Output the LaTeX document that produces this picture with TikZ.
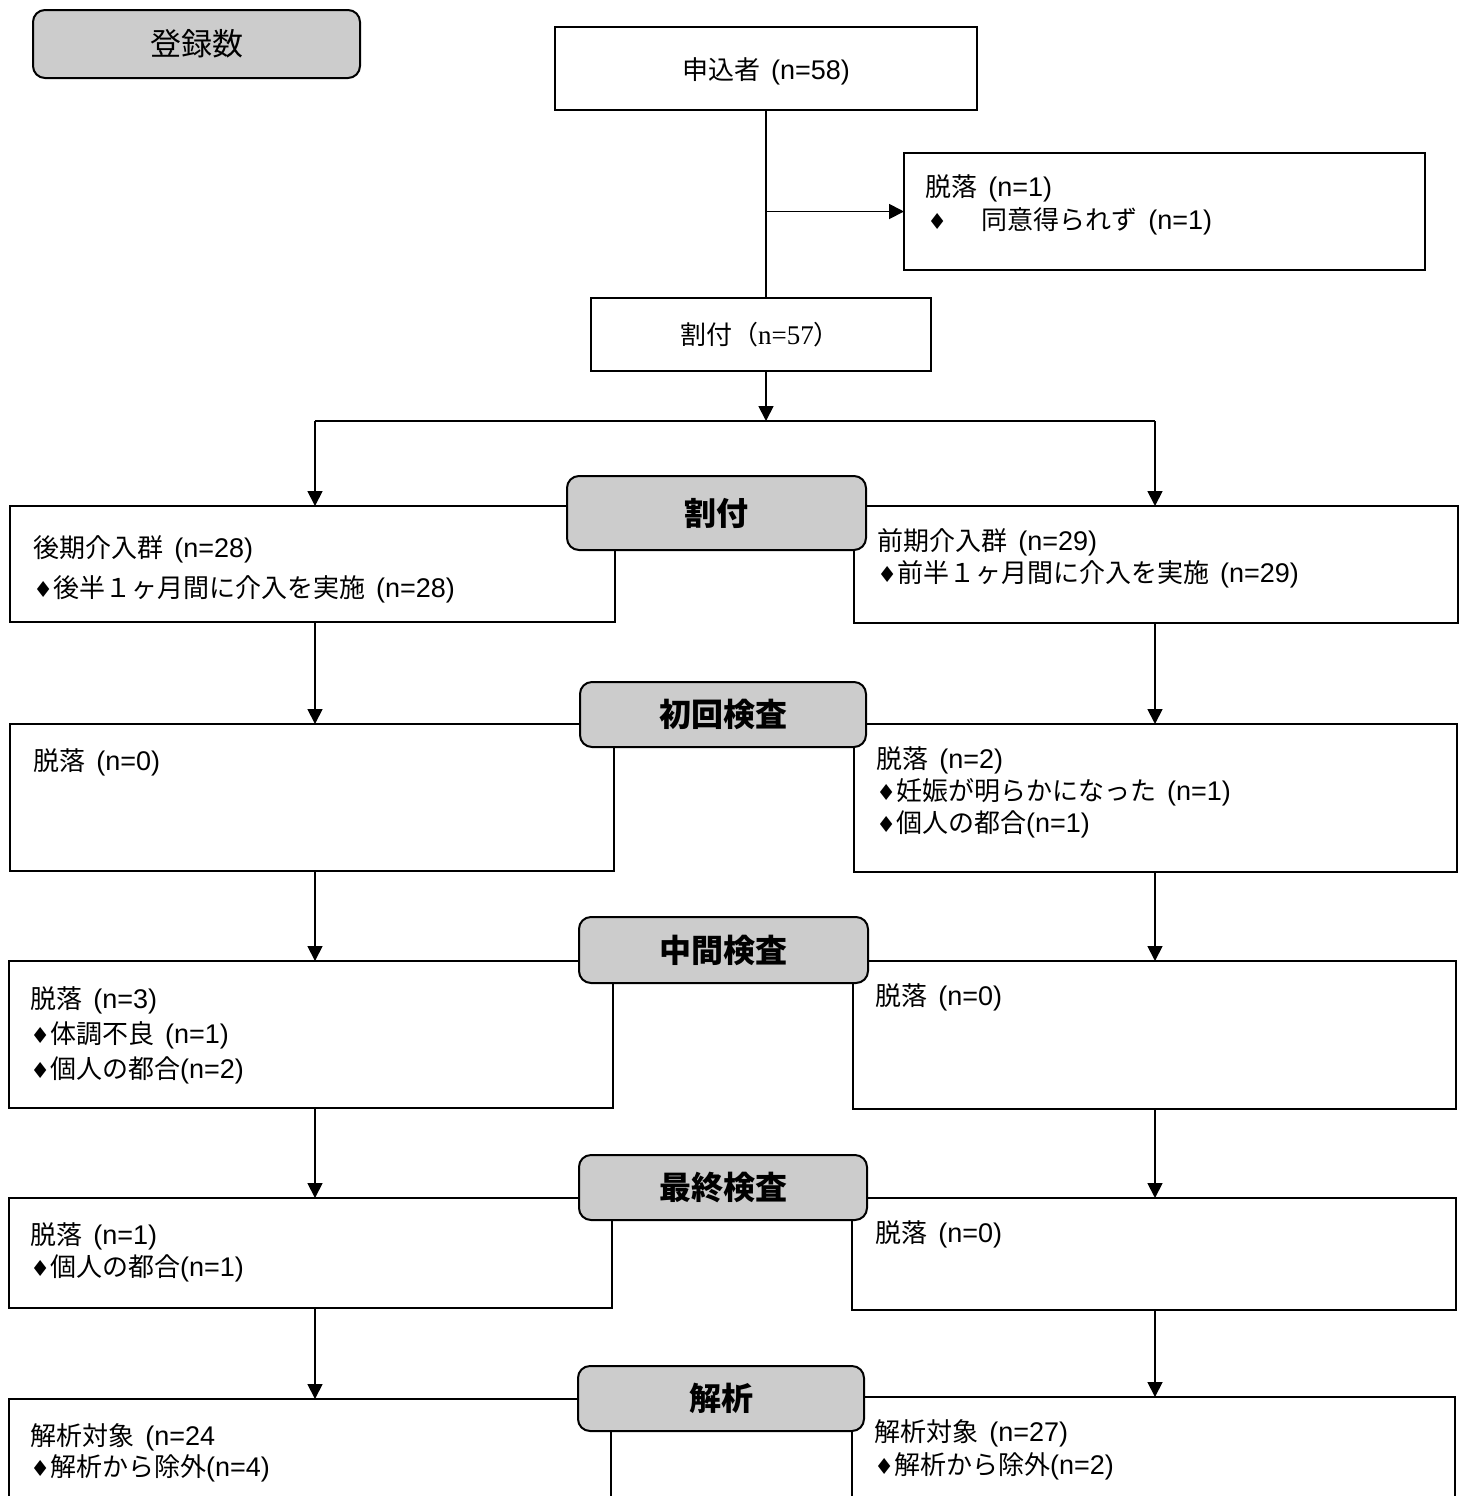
\documentclass[tikz,border=0pt]{standalone}
\usepackage{fontspec}
\setmainfont{Liberation Sans}
\newfontfamily\jp{Noto Sans CJK JP}
\newfontfamily\dejavu{DejaVu Sans}
\newfontfamily\serifL{Liberation Serif}
\usetikzlibrary{arrows.meta}
\newcommand\J[1]{{\jp\fontsize{13}{15}\selectfont #1}}
\newcommand\dia{{\dejavu\fontsize{11}{11}\selectfont ♦}}
\newcommand\gp{\hspace{5.5pt}}
\begin{document}
\begin{tikzpicture}[x=0.5pt,y=-0.5pt,
 box/.style={draw,line width=1pt,fill=white,inner sep=0pt,outer sep=0pt,anchor=north west},
 grey/.style={draw,line width=1pt,fill=black!20,rounded corners=6pt,inner sep=0pt,outer sep=0pt,anchor=north west,font=\jp\bfseries\fontsize{16}{18}\selectfont},
 txt/.style={inner sep=0pt,anchor=west,font=\fontsize{13.5}{15}\selectfont},
 arr/.style={line width=0.9pt,-{Triangle[length=7.5pt,width=7.5pt]}},
 ln/.style={line width=0.9pt}]
\clip (0,0) rectangle (1465,1496);
\fill[white] (0,0) rectangle (1465,1496);
\coordinate (lx) at (315,0);
\coordinate (rx) at (1155,0);
\coordinate (sy) at (0,421);

% top part
\node[grey,font=\jp\fontsize{15.5}{18}\selectfont,minimum width=163.5pt,minimum height=34pt] (reg) at (33,10) {登録数};
\node[box,minimum width=211pt,minimum height=41.5pt] (app) at (555,27) {};
\node[txt,anchor=center] (appT) at (766,71) {\J{申込者}\gp(n=58)};
\node[box,minimum width=260.5pt,minimum height=58.5pt] (drop) at (904,153) {};
\node[txt] (dropT1) at (925,188) {\J{脱落}\gp(n=1)};
\node[txt] (dropT2) at (927,221) {\makebox[27pt][l]{\dia}\J{同意得られず}\gp(n=1)};
\node[box,minimum width=170pt,minimum height=36.5pt] (alloc) at (591,298) {};
\node[txt,anchor=center] (allocT) at (760,335) {\J{割付（}{\serifL n=57}\J{）}};

\draw[ln] (app.south) -- (app.south |- alloc.north);
\draw[arr] (app.south |- drop.west) -- (drop.west);
\draw[arr] (app.south |- alloc.south) -- (app.south |- sy);

% boxes row 1
\node[box,minimum width=302.5pt,minimum height=58pt] (L1) at (10,506) {};
\node[box,minimum width=302pt,minimum height=58.5pt] (R1) at (854,506) {};
\node[txt] at (33,549) {\J{後期介入群}\gp(n=28)};
\node[txt] at (33,589) {\dia\J{後半１ヶ月間に介入を実施}\gp(n=28)};
\node[txt] at (877,542) {\J{前期介入群}\gp(n=29)};
\node[txt] at (877,574) {\dia\J{前半１ヶ月間に介入を実施}\gp(n=29)};
\node[grey,minimum width=149.5pt,minimum height=37pt] (G1) at (567,476) {割付};

\draw[ln] (sy -| lx) -- (sy -| rx);
\draw[arr] (sy -| lx) -- (L1.north -| lx);
\draw[arr] (sy -| rx) -- (R1.north -| rx);

% row 2
\node[box,minimum width=302pt,minimum height=73.5pt] (L2) at (10,724) {};
\node[box,minimum width=301.5pt,minimum height=74pt] (R2) at (854,724) {};
\node[txt] at (33,762) {\J{脱落}\gp(n=0)};
\node[txt] at (876,760) {\J{脱落}\gp(n=2)};
\node[txt] at (876,792) {\dia\J{妊娠が明らかになった}\gp(n=1)};
\node[txt] at (876,824) {\dia\J{個人の都合}(n=1)};
\node[grey,minimum width=143pt,minimum height=32.5pt] (G2) at (580,682) {初回検査};
\draw[arr] (L1.south -| lx) -- (L2.north -| lx);
\draw[arr] (R1.south -| rx) -- (R2.north -| rx);

% row 3
\node[box,minimum width=302pt,minimum height=73.5pt] (L3) at (9,961) {};
\node[box,minimum width=301.5pt,minimum height=74pt] (R3) at (853,961) {};
\node[txt] at (30,1000) {\J{脱落}\gp(n=3)};
\node[txt] at (30,1035) {\dia\J{体調不良}\gp(n=1)};
\node[txt] at (30,1070) {\dia\J{個人の都合}(n=2)};
\node[txt] at (875,997) {\J{脱落}\gp(n=0)};
\node[grey,minimum width=144.5pt,minimum height=33pt] (G3) at (579,917) {中間検査};
\draw[arr] (L2.south -| lx) -- (L3.north -| lx);
\draw[arr] (R2.south -| rx) -- (R3.north -| rx);

% row 4
\node[box,minimum width=301.5pt,minimum height=55pt] (L4) at (9,1198) {};
\node[box,minimum width=302pt,minimum height=56pt] (R4) at (852,1198) {};
\node[txt] at (30,1236) {\J{脱落}\gp(n=1)};
\node[txt] at (30,1268) {\dia\J{個人の都合}(n=1)};
\node[txt] at (875,1234) {\J{脱落}\gp(n=0)};
\node[grey,minimum width=144pt,minimum height=32.5pt] (G4) at (579,1155) {最終検査};
\draw[arr] (L3.south -| lx) -- (L4.north -| lx);
\draw[arr] (R3.south -| rx) -- (R4.north -| rx);

% row 5
\node[box,minimum width=301pt,minimum height=80.5pt] (L5) at (9,1399) {};
\node[box,minimum width=301.5pt,minimum height=81.5pt] (R5) at (852,1397) {};
\node[txt] at (30,1437) {\J{解析対象}\gp(n=24};
\node[txt] at (30,1468) {\dia\J{解析から除外}(n=4)};
\node[txt] at (874,1433) {\J{解析対象}\gp(n=27)};
\node[txt] at (874,1466) {\dia\J{解析から除外}(n=2)};
\node[grey,minimum width=143pt,minimum height=32.5pt] (G5) at (578,1366) {解析};
\draw[arr] (L4.south -| lx) -- (L5.north -| lx);
\draw[arr] (R4.south -| rx) -- (R5.north -| rx);
\end{tikzpicture}
\end{document}
